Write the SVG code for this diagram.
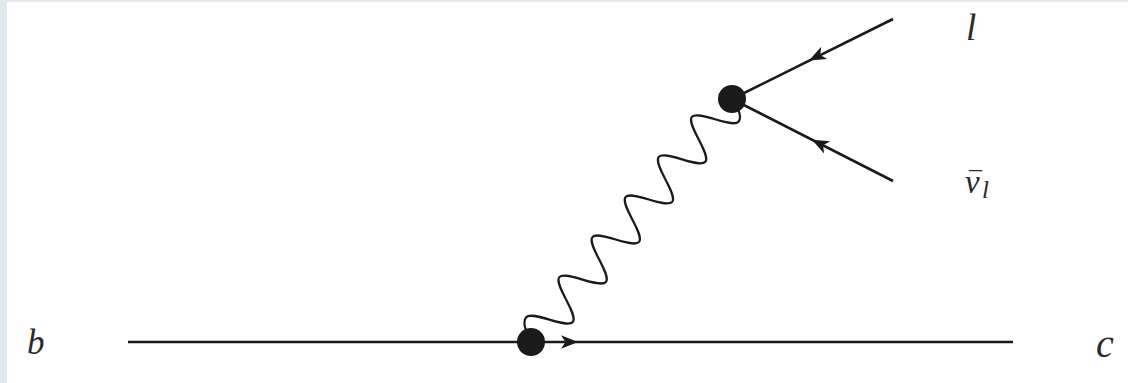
<svg xmlns="http://www.w3.org/2000/svg" width="1128" height="383" viewBox="0 0 1128 383">
  <style>
    .ln { fill: none; stroke: #1a1a1a; stroke-width: 2.6; stroke-linecap: butt; }
    .wave { fill: none; stroke: #1a1a1a; stroke-width: 2.2; }
    .vx { fill: #1a1a1a; }
    .ah { fill: #1a1a1a; }
    .lbl { font-family: 'Liberation Serif', 'DejaVu Serif', serif; font-style: italic; fill: #2a2a2a; }
  </style>
  <defs>
    <path id="arr" d="M 0 0 L -17 -6.8 L -12.5 0 L -17 6.8 Z"/>
  </defs>
  <rect x="0" y="0" width="1128" height="383" fill="#e3eaec"/>
  <rect x="7" y="2" width="1121" height="381" fill="#ffffff"/>

  <g id="connectors">
    <line id="fermion-bc" class="ln" x1="128" y1="342" x2="1013" y2="342"/>
    <line id="fermion-l" class="ln" x1="732" y1="99" x2="893" y2="19"/>
    <line id="fermion-nu" class="ln" x1="732" y1="99" x2="893" y2="181"/>
    <path id="photon-W" class="wave" transform="translate(531,342) rotate(-50.41)"
      d="M 0 0 C 5 -10 9 -19.5 16 -19.5
         C 25.47 -19.5 32.53 19.5 42 19.5
         S 58.53 -19.5 68 -19.5
         S 84.53 19.5 94 19.5
         S 110.53 -19.5 120 -19.5
         S 136.53 19.5 146 19.5
         S 162.53 -19.5 172 -19.5
         S 188.53 19.5 198 19.5
         S 214.53 -19.5 224 -19.5
         S 240.53 19.5 250 19.5
         S 266.53 -19.5 276 -19.5
         S 292.53 19.5 302 19.5
         C 309 19.5 313 8 315 0"/>
    <use href="#arr" class="ah" transform="translate(578,342)"/>
    <use href="#arr" class="ah" transform="translate(809,60.5) rotate(153.6)"/>
    <use href="#arr" class="ah" transform="translate(812,139.7) rotate(207)"/>
  </g>

  <g id="vertex-bottom">
    <circle class="vx" cx="531" cy="342" r="14"/>
  </g>
  <g id="vertex-top">
    <circle class="vx" cx="732" cy="99" r="14"/>
  </g>

  <g id="label-b"><text class="lbl" x="27" y="354" font-size="35">b</text></g>
  <g id="label-c"><text class="lbl" x="1096" y="357" font-size="40">c</text></g>
  <g id="label-l"><text class="lbl" x="966" y="40" font-size="37">l</text></g>
  <g id="label-nu"><text class="lbl" x="965" y="193" font-size="33">ν<tspan x="982" y="198" font-size="25">l</tspan><tspan x="967" y="192" font-size="30" textLength="13" lengthAdjust="spacingAndGlyphs">¯</tspan></text></g>
</svg>
